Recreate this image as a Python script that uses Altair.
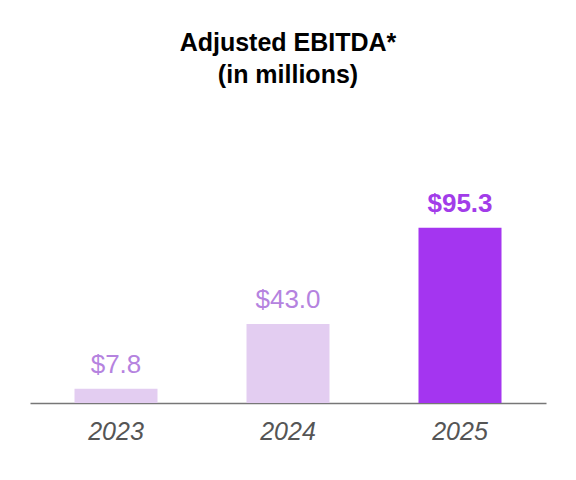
import altair as alt
import pandas as pd

years = ["2023", "2024", "2025"]
values = [7.8, 43.0, 95.3]
labels = ["$7.8", "$43.0", "$95.3"]
bar_colors = ["#e3cdf1", "#e3cdf1", "#a435f0"]
text_colors = ["#b583df", "#b583df", "#a23ce9"]
weights = ["normal", "normal", "bold"]

df = pd.DataFrame({
    "year": years, "value": values, "label": labels,
    "bar_color": bar_colors, "text_color": text_colors, "weight": weights,
})

x = alt.X("year:N", sort=years,
          scale=alt.Scale(paddingInner=0, paddingOuter=0),
          axis=alt.Axis(title=None, labelAngle=0, labelFont="Liberation Sans",
                        labelFontSize=25, labelFontStyle="italic", labelColor="#555555",
                        ticks=False, domainColor="#777777", domainWidth=1.5,
                        labelPadding=16))
y = alt.Y("value:Q", scale=alt.Scale(domain=[0, 100], nice=False, zero=True), axis=None)

bars = alt.Chart(df).mark_bar(size=83).encode(
    x=x, y=y, color=alt.Color("bar_color:N", scale=None)
)

light = alt.Chart(df).transform_filter(alt.datum.weight == "normal").mark_text(
    baseline="alphabetic", dy=-16, font="Liberation Sans", fontSize=26
).encode(x=x, y=y, text="label:N", color=alt.Color("text_color:N", scale=None))

bold = alt.Chart(df).transform_filter(alt.datum.weight == "bold").mark_text(
    baseline="alphabetic", dy=-16, font="Liberation Sans", fontSize=26, fontWeight="bold"
).encode(x=x, y=y, text="label:N", color=alt.Color("text_color:N", scale=None))

chart = alt.layer(bars, light, bold).properties(
    width=516, height=184,
    autosize=alt.AutoSizeParams(type="none"),
    padding={"left": 22, "top": 211, "right": 22, "bottom": 60},
    title=alt.TitleParams(
        text=["Adjusted EBITDA*", "(in millions)"],
        font="Liberation Sans", fontSize=25, fontWeight="bold", color="#000000",
        anchor="middle", lineHeight=32, offset=103,
    ),
).configure_view(stroke=None)

chart.save("out.html", embed_options={"renderer": "svg", "actions": False})
